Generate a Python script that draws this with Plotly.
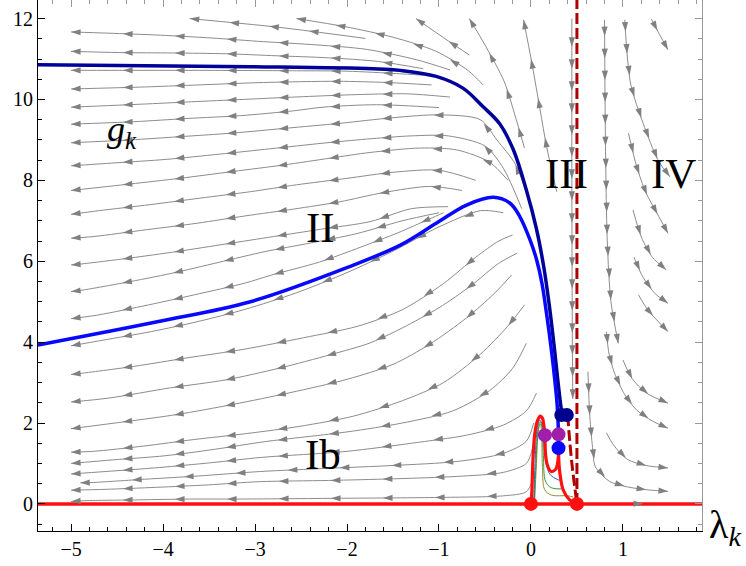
import numpy as np
import plotly.graph_objects as go

# ---------------------------------------------------------------
# Flow of (lambda_k, g_k).  Each stream line runs from its start
# towards the IR (arrow direction).
# ---------------------------------------------------------------

# lines above / along the upper separatrix
upper_lines = [
    [(-1.80, 11.51), (-2.30, 11.66), (-2.80, 11.80), (-3.71, 12.0)],
    [(-0.52, 10.36), (-0.68, 10.71), (-1.03, 11.19), (-1.50, 11.54), (-2.02, 11.80), (-2.55, 12.0)],
    [(-0.67, 11.10), (-0.90, 11.45), (-1.25, 12.0)],
    [(-0.07, 8.80), (-0.18, 9.66), (-0.29, 10.44), (-0.49, 11.31), (-0.67, 12.0)],
    [(0.28, 7.72), (0.17, 8.84), (0.10, 9.74), (0.01, 10.90), (-0.08, 11.97)],
]

# lines that reach lambda = -5 (regions above the lower separatrix)
band_lines = [
    [(-0.88, 10.73), (-1.24, 10.98), (-1.79, 11.24), (-2.33, 11.35), (-2.91, 11.43), (-3.47, 11.52), (-4.03, 11.59), (-4.60, 11.64), (-5.0, 11.67)],
    [(-1.17, 10.76), (-1.66, 10.94), (-2.20, 11.03), (-2.76, 11.08), (-3.31, 11.13), (-3.89, 11.15), (-4.47, 11.16), (-5.0, 11.19)],
    [(-1.17, 10.60), (-1.46, 10.64), (-2.00, 10.70), (-2.55, 10.71), (-3.50, 10.72), (-5.0, 10.72)],
    [(-1.08, 10.36), (-1.57, 10.42), (-2.10, 10.45), (-2.91, 10.42), (-3.50, 10.37), (-4.20, 10.31), (-5.0, 10.26)],
    [(-0.88, 10.06), (-1.35, 10.14), (-1.90, 10.12), (-2.47, 10.07), (-3.05, 10.01), (-3.63, 9.95), (-4.18, 9.89), (-5.0, 9.81)],
    [(-1.00, 9.80), (-1.68, 9.87), (-2.26, 9.81), (-2.58, 9.72), (-3.16, 9.60), (-3.74, 9.53), (-4.32, 9.45), (-5.0, 9.39)],
    [(-0.02, 7.50), (-0.17, 8.40), (-0.37, 9.00), (-0.55, 9.50), (-1.00, 9.62), (-1.50, 9.55), (-2.08, 9.41), (-2.66, 9.29), (-3.24, 9.17), (-3.82, 9.08), (-4.36, 9.00), (-5.0, 8.93)],
    [(-0.10, 7.30), (-0.30, 8.30), (-0.50, 8.85), (-0.90, 9.10), (-1.30, 9.10), (-1.79, 9.02), (-2.26, 8.92), (-2.84, 8.78), (-3.38, 8.65), (-3.96, 8.52), (-4.54, 8.43), (-5.0, 8.36)],
    [(-0.25, 8.00), (-0.45, 8.45), (-0.80, 8.75), (-1.20, 8.80), (-1.75, 8.69), (-2.18, 8.55), (-2.69, 8.38), (-3.24, 8.22), (-3.82, 8.05), (-4.36, 7.91), (-5.0, 7.75)],
    [(-0.60, 8.00), (-1.00, 8.25), (-1.50, 8.20), (-2.00, 8.05), (-2.55, 7.89), (-3.05, 7.72), (-3.60, 7.56), (-4.14, 7.40), (-4.70, 7.25), (-5.0, 7.16)],
    [(-0.75, 7.75), (-1.10, 7.85), (-1.60, 7.70), (-2.08, 7.47), (-2.58, 7.29), (-3.11, 7.12), (-3.63, 6.94), (-4.18, 6.78), (-4.76, 6.61), (-5.0, 6.57)],
    [(-0.90, 7.35), (-1.30, 7.30), (-1.75, 6.98), (-2.29, 6.79), (-2.80, 6.61), (-3.31, 6.43), (-3.85, 6.24), (-4.36, 6.08), (-4.90, 5.93), (-5.0, 5.91)],
    [(-1.00, 7.20), (-1.40, 7.00), (-1.90, 6.68), (-2.40, 6.45), (-2.89, 6.24), (-3.40, 5.97), (-3.91, 5.70), (-4.42, 5.47), (-4.92, 5.27), (-5.0, 5.25)],
    [(-0.95, 7.20), (-1.10, 7.05), (-1.45, 6.70), (-1.85, 6.35), (-2.30, 5.98), (-2.82, 5.66), (-3.11, 5.46), (-3.66, 5.17), (-4.16, 4.92), (-4.71, 4.67), (-5.0, 4.58)],
]

# lines below the lower separatrix (region Ib)
lower_lines = [
    [(-0.30, 7.20), (-0.55, 7.25), (-1.00, 6.85), (-1.50, 6.25), (-2.00, 5.72), (-2.55, 5.22), (-3.11, 4.81), (-3.62, 4.51), (-4.13, 4.26), (-4.65, 4.05), (-5.0, 3.91)],
    [(-0.20, 6.65), (-0.35, 6.50), (-0.60, 6.10), (-0.95, 5.45), (-1.40, 4.80), (-1.89, 4.39), (-2.47, 4.11), (-3.13, 3.82), (-3.74, 3.61), (-4.32, 3.40), (-4.92, 3.22), (-5.0, 3.20)],
    [(-0.15, 6.20), (-0.35, 5.95), (-0.65, 5.40), (-1.00, 4.85), (-1.40, 4.35), (-1.75, 3.98), (-2.18, 3.69), (-2.73, 3.36), (-3.31, 3.07), (-3.92, 2.87), (-4.58, 2.62), (-5.0, 2.52)],
    [(-0.21, 5.66), (-0.40, 5.20), (-0.70, 4.60), (-1.10, 3.95), (-1.50, 3.45), (-2.00, 3.08), (-2.62, 2.75), (-3.24, 2.46), (-3.85, 2.21), (-4.39, 2.04), (-5.0, 1.86)],
    [(-0.07, 4.92), (-0.25, 4.40), (-0.55, 3.70), (-0.95, 3.00), (-1.40, 2.55), (-1.93, 2.17), (-2.51, 1.92), (-3.09, 1.74), (-3.67, 1.59), (-4.21, 1.43), (-4.76, 1.30), (-5.0, 1.28)],
    [(-0.05, 3.97), (-0.20, 3.35), (-0.45, 2.80), (-0.85, 2.30), (-1.40, 2.00), (-2.00, 1.78), (-2.89, 1.54), (-3.44, 1.35), (-3.98, 1.19), (-4.54, 1.09), (-5.0, 1.00)],
    [(0.06, 2.74), (-0.05, 2.30), (-0.30, 1.95), (-0.70, 1.70), (-1.30, 1.50), (-2.00, 1.30), (-2.93, 1.15), (-3.47, 1.02), (-4.04, 0.90), (-4.63, 0.80), (-5.0, 0.74)],
    [(0.03, 2.00), (-0.05, 1.55), (-0.30, 1.25), (-0.80, 1.05), (-1.50, 0.95), (-2.20, 0.88), (-2.95, 0.80), (-3.62, 0.69), (-4.20, 0.61), (-4.76, 0.53), (-4.90, 0.52)],
    [(0.02, 1.40), (-0.05, 1.00), (-0.30, 0.78), (-0.80, 0.68), (-1.50, 0.62), (-2.20, 0.58), (-2.95, 0.55), (-3.51, 0.47), (-4.07, 0.41), (-4.63, 0.36), (-5.0, 0.34)],
    [(0.02, 0.60), (-0.05, 0.30), (-0.30, 0.20), (-1.00, 0.16), (-2.00, 0.14), (-3.15, 0.12), (-3.71, 0.12), (-4.27, 0.10), (-4.85, 0.08), (-5.0, 0.06)],
]

# lines on the right: next to the singular line and beyond it
right_lines = [
    [(0.445, 12.0), (0.445, 8.0), (0.45, 4.0), (0.455, 2.6)],
    [(0.80, 11.97), (0.81, 9.0), (0.83, 6.5), (0.87, 5.0), (0.95, 3.97)],
    [(1.02, 11.97), (1.05, 11.0), (1.09, 10.32), (1.22, 9.41), (1.38, 8.51), (1.51, 8.09)],
    [(1.31, 11.99), (1.40, 11.60), (1.49, 11.23)],
    [(1.06, 9.17), (1.15, 8.34), (1.25, 7.70), (1.37, 7.19), (1.49, 6.69)],
    [(1.11, 7.27), (1.20, 6.60), (1.32, 6.10), (1.47, 5.79)],
    [(1.12, 6.10), (1.22, 5.60), (1.35, 5.20), (1.49, 4.96)],
    [(1.17, 5.17), (1.27, 4.80), (1.49, 4.26)],
    [(0.82, 4.26), (0.85, 3.70), (0.91, 3.23), (1.02, 2.70), (1.15, 2.32), (1.32, 2.05), (1.49, 1.87)],
    [(1.00, 3.56), (1.10, 3.10), (1.25, 2.75), (1.49, 2.49)],
    [(0.62, 3.27), (0.64, 2.16), (0.67, 1.40), (0.70, 0.92), (0.86, 0.55), (1.05, 0.42), (1.26, 0.35), (1.49, 0.31)],
    [(0.82, 1.76), (0.90, 1.45), (1.05, 1.10), (1.25, 0.95), (1.49, 0.89)],
]

# flow along the lambda axis beyond the second fixed point
axis_lines = [
    [(0.90, 0.005), (1.22, 0.005)],
]

# separatrices ending in the fixed points
upper_sep_lam = [-5.36, -3.05, -1.72, -1.42, -1.03, -0.74, -0.52, -0.34, -0.19, -0.05, 0.06, 0.14, 0.20, 0.25, 0.29, 0.315, 0.335]
upper_sep_g = [10.86, 10.81, 10.76, 10.72, 10.57, 10.28, 9.82, 9.40, 8.75, 7.76, 6.80, 5.85, 4.90, 3.95, 3.10, 2.60, 2.25]

lower_sep_lam = [-5.36, -4.05, -3.05, -1.97, -1.42, -1.03, -0.70, -0.41, -0.23, -0.12, -0.01, 0.06, 0.12, 0.17, 0.22, 0.26, 0.285, 0.297, 0.30]
lower_sep_g = [3.93, 4.51, 5.00, 5.87, 6.40, 6.94, 7.39, 7.58, 7.44, 7.10, 6.53, 6.05, 5.45, 4.70, 3.85, 3.05, 2.45, 1.90, 1.38]

# red trajectories near the Gaussian fixed point
red_a_lam = [0.0, 0.01, 0.02, 0.04, 0.07, 0.10, 0.125, 0.14, 0.152]
red_a_g = [0.0, 0.30, 1.00, 1.70, 2.05, 2.17, 2.12, 1.95, 1.71]
red_b_lam = [0.152, 0.16, 0.18, 0.22, 0.27, 0.295, 0.30]
red_b_g = [1.71, 1.20, 0.95, 0.80, 0.86, 1.10, 1.38]
red_c_lam = [0.30, 0.305, 0.315, 0.35, 0.42, 0.50]
red_c_g = [1.38, 1.00, 0.76, 0.35, 0.10, 0.0]

# thin trajectories inside the red hump
thin_blue_lam = [0.03, 0.045, 0.065, 0.095, 0.12, 0.14, 0.165, 0.21, 0.31]
thin_blue_g = [0.05, 1.00, 1.80, 2.07, 1.98, 1.50, 1.00, 0.72, 0.58]
thin_green_lam = [0.035, 0.055, 0.075, 0.10, 0.12, 0.135, 0.16, 0.22, 0.33]
thin_green_g = [0.05, 1.00, 1.80, 2.03, 1.90, 1.20, 0.55, 0.40, 0.37]
thin_olive_lam = [0.04, 0.06, 0.08, 0.10, 0.115, 0.125, 0.15, 0.22, 0.40, 0.46]
thin_olive_g = [0.03, 1.00, 1.80, 1.98, 1.80, 0.90, 0.35, 0.22, 0.20, 0.17]

# singular line and the line into the second fixed point
sing_lam = [0.5, 0.5]
sing_g = [0.0, 12.46]
slant_lam = [0.40, 0.42, 0.45, 0.48, 0.50]
slant_g = [2.20, 1.60, 0.90, 0.35, 0.0]

# fixed points
red_pts_lam = [0.0, 0.5]
red_pts_g = [0.0, 0.0]
navy_pts_lam = [0.33, 0.39]
navy_pts_g = [2.20, 2.20]
purple_pts_lam = [0.152, 0.30]
purple_pts_g = [1.70, 1.72]
blue_pts_lam = [0.30]
blue_pts_g = [1.38]

# region labels
region_text = ["II", "Ib", "III", "IV"]
region_lam = [-2.29, -2.26, 0.39, 1.55]
region_g = [6.84, 1.22, 8.18, 8.18]

x_ticks = [-5, -4, -3, -2, -1, 0, 1]
y_ticks = [0, 2, 4, 6, 8, 10, 12]

# ---------------------------------------------------------------
FIG_W, FIG_H = 746, 566
ML, MR, MT, MB = 38, 44, 0, 35
LAM_RANGE = [-5.36, 1.86]
G_RANGE = [-0.67, 12.46]
SX = (FIG_W - ML - MR) / (LAM_RANGE[1] - LAM_RANGE[0])
SY = (FIG_H - MT - MB) / (G_RANGE[1] - G_RANGE[0])

SERIF = "Liberation Serif"
GRAY_LINE = "rgb(140,140,140)"
GRAY_HEAD = "rgb(128,128,128)"


def point_at(p, s, t):
    """Position along polyline p (data units) at pixel arc length t."""
    i = int(np.clip(np.searchsorted(s, t) - 1, 0, len(s) - 2))
    seg = s[i + 1] - s[i]
    f = 0.0 if seg == 0 else (t - s[i]) / seg
    return p[i] + f * (p[i + 1] - p[i])


def heads(line, spacing):
    p = np.asarray(line, float)
    q = p * np.array([SX, SY])
    s = np.concatenate([[0.0], np.cumsum(np.hypot(*np.diff(q, axis=0).T))])
    xs, ys, ang = [], [], []
    t = s[-1]
    while t > 0.45 * spacing:
        a = point_at(p, s, t)
        b = point_at(p, s, max(t - 8.0, 0.0))
        d = (a - b) * np.array([SX, SY])
        xs.append(a[0])
        ys.append(a[1])
        ang.append(float(np.degrees(np.arctan2(d[0], d[1]))))
        t -= spacing
    return xs, ys, ang


fig = go.Figure()

groups = [(upper_lines, 40), (band_lines, 52), (lower_lines, 52), (right_lines, 22), (axis_lines, 60)]
lx, ly, hx, hy, ha = [], [], [], [], []
for lines, spacing in groups:
    for line in lines:
        lx += [pt[0] for pt in line] + [None]
        ly += [pt[1] for pt in line] + [None]
        xs, ys, ang = heads(line, spacing)
        hx += xs
        hy += ys
        ha += ang

fig.add_trace(go.Scatter(x=lx, y=ly, mode="lines", line=dict(color=GRAY_LINE, width=1, shape="spline", smoothing=0.8),
                         hoverinfo="skip", showlegend=False))

# red axis trajectory g = 0
fig.add_trace(go.Scatter(x=LAM_RANGE, y=[0, 0], mode="lines", line=dict(color="#ff1010", width=3.5),
                         hoverinfo="skip", showlegend=False))

# arrow heads of the stream lines
fig.add_trace(go.Scatter(x=hx, y=hy, mode="markers",
                         marker=dict(symbol="arrow", size=10, angle=ha, color=GRAY_HEAD, line=dict(width=0)),
                         hoverinfo="skip", showlegend=False))

# thin trajectories
for lam, g, col in [(thin_olive_lam, thin_olive_g, "#9a8c2a"), (thin_green_lam, thin_green_g, "#2f9a3c"),
                    (thin_blue_lam, thin_blue_g, "#3a5fb0")]:
    fig.add_trace(go.Scatter(x=lam, y=g, mode="lines", line=dict(color=col, width=1, shape="spline"),
                             hoverinfo="skip", showlegend=False))

# separatrices
fig.add_trace(go.Scatter(x=upper_sep_lam, y=upper_sep_g, mode="lines", line=dict(color="#00009a", width=3.5, shape="spline"),
                         hoverinfo="skip", showlegend=False))
fig.add_trace(go.Scatter(x=lower_sep_lam, y=lower_sep_g, mode="lines", line=dict(color="#0808ff", width=3.5, shape="spline"),
                         hoverinfo="skip", showlegend=False))

# red trajectories
for lam, g in [(red_a_lam, red_a_g), (red_b_lam, red_b_g), (red_c_lam, red_c_g)]:
    fig.add_trace(go.Scatter(x=lam, y=g, mode="lines", line=dict(color="#ff1010", width=3.2, shape="spline"),
                             hoverinfo="skip", showlegend=False))

# dashed lines
fig.add_trace(go.Scatter(x=sing_lam, y=sing_g, mode="lines", line=dict(color="#b00000", width=3, dash="11px,4px"),
                         hoverinfo="skip", showlegend=False))
fig.add_trace(go.Scatter(x=slant_lam, y=slant_g, mode="lines", line=dict(color="#b00000", width=3, dash="11px,4px", shape="spline"),
                         hoverinfo="skip", showlegend=False))

# fixed points
for lam, g, col in [(red_pts_lam, red_pts_g, "#ff1010"), (navy_pts_lam, navy_pts_g, "#000090"),
                    (purple_pts_lam, purple_pts_g, "#a01ea8"), (blue_pts_lam, blue_pts_g, "#0808ff")]:
    fig.add_trace(go.Scatter(x=lam, y=g, mode="markers", marker=dict(size=14, color=col, line=dict(width=0)),
                             hoverinfo="skip", showlegend=False))

# top / right frame carrier
fig.add_trace(go.Scatter(x=[None], y=[None], xaxis="x2", yaxis="y2", showlegend=False))

for txt, lam, g in zip(region_text, region_lam, region_g):
    fig.add_annotation(x=lam, y=g, text=txt, showarrow=False, font=dict(family=SERIF, size=43, color="black"),
                       xanchor="center", yanchor="middle")

fig.add_annotation(x=-4.45, y=9.21, text="<i>g</i><sub><i>k</i></sub>", showarrow=False,
                   font=dict(family=SERIF, size=36, color="black"), xanchor="center", yanchor="middle")
fig.add_annotation(xref="paper", yref="paper", x=1.035, y=0.008, text="λ<sub><i>k</i></sub>", showarrow=False,
                   font=dict(family=SERIF, size=40, color="black"), xanchor="center", yanchor="middle")

axis_common = dict(showgrid=False, zeroline=False, ticks="inside", ticklen=7, tickwidth=1, showline=True, linewidth=1)

fig.update_layout(
    width=FIG_W, height=FIG_H,
    margin=dict(l=ML, r=MR, t=MT, b=MB),
    paper_bgcolor="white", plot_bgcolor="white",
    font=dict(family=SERIF, color="black"),
    xaxis=dict(range=LAM_RANGE, tickvals=x_ticks, linecolor="black", tickcolor="black",
               tickfont=dict(family=SERIF, size=20, color="black"),
               minor=dict(dtick=0.2, tick0=0, ticks="inside", ticklen=4, tickcolor="black"), **axis_common),
    yaxis=dict(range=G_RANGE, tickvals=y_ticks, linecolor="black", tickcolor="black",
               tickfont=dict(family=SERIF, size=20, color="black"),
               minor=dict(dtick=0.5, tick0=0, ticks="inside", ticklen=4, tickcolor="black"), **axis_common),
    xaxis2=dict(range=LAM_RANGE, overlaying="x", side="top", anchor="y", tickvals=x_ticks, showticklabels=False,
                linecolor="#999999", tickcolor="#999999",
                minor=dict(dtick=0.2, tick0=0, ticks="inside", ticklen=4, tickcolor="#999999"), **axis_common),
    yaxis2=dict(range=G_RANGE, overlaying="y", side="right", anchor="x", tickvals=y_ticks, showticklabels=False,
                linecolor="#999999", tickcolor="#999999",
                minor=dict(dtick=0.5, tick0=0, ticks="inside", ticklen=4, tickcolor="#999999"), **axis_common),
)

fig.write_html("out.html")
